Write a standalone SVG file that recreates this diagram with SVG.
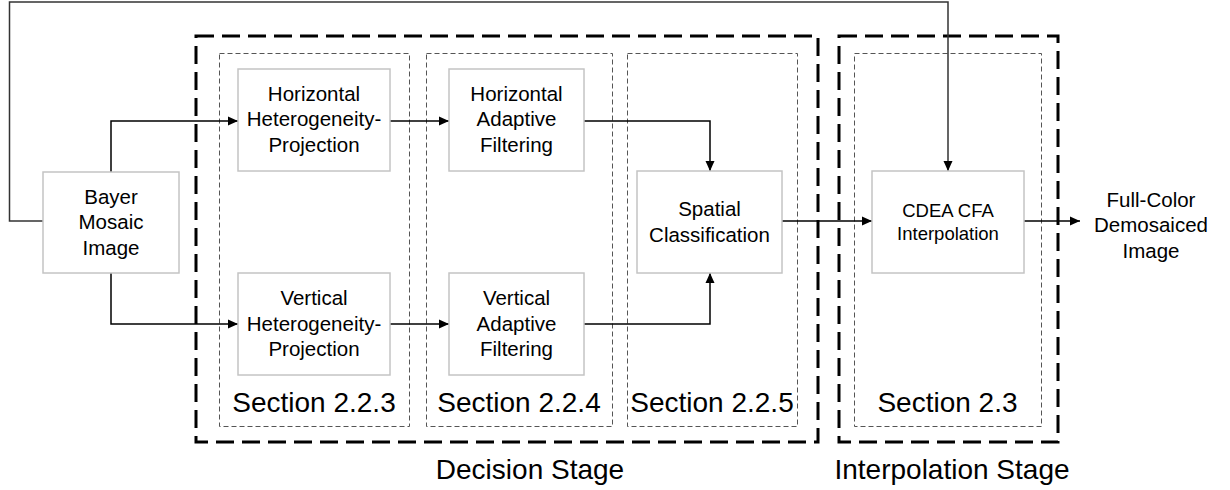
<svg xmlns="http://www.w3.org/2000/svg" width="1230" height="490" viewBox="0 0 1230 490">
  <defs>
    <marker id="arrow" viewBox="0 0 10 10" refX="10" refY="5" markerWidth="10" markerHeight="10" markerUnits="userSpaceOnUse" orient="auto">
      <path d="M0,0.5 L10,5 L0,9.5 Z" fill="#000"/>
    </marker>
    <style>
      .stage { fill: none; stroke: #000; stroke-width: 3; stroke-dasharray: 18 8; }
      .section { fill: none; stroke: #555; stroke-width: 1; stroke-dasharray: 5 3; }
      .box { fill: #fff; stroke: #c4c4c4; stroke-width: 1.5; }
      .lbl { font-family: "Liberation Sans", Arial, sans-serif; font-size: 20.5px; fill: #000; text-anchor: middle; }
      .small { font-size: 18.5px; }
      .big { font-family: "Liberation Sans", Arial, sans-serif; font-size: 28px; fill: #000; text-anchor: middle; }
      .wire { fill: none; stroke: #000; stroke-width: 1.5; }
      .feedback { fill: none; stroke: #333; stroke-width: 1.5; }
    </style>
  </defs>

  <!-- stage frames -->
  <g id="decision-stage">
    <rect class="stage" x="196" y="36" width="622" height="406"/>
    <text class="big" x="530" y="479">Decision Stage</text>
  </g>
  <g id="interpolation-stage">
    <rect class="stage" x="839" y="36" width="219" height="406"/>
    <text class="big" x="952" y="479">Interpolation Stage</text>
  </g>

  <!-- section frames -->
  <g id="section-223">
    <rect class="section" x="219.5" y="53.5" width="190" height="373"/>
    <text class="big" x="314" y="412">Section 2.2.3</text>
  </g>
  <g id="section-224">
    <rect class="section" x="426.5" y="53.5" width="186" height="373"/>
    <text class="big" x="519" y="412">Section 2.2.4</text>
  </g>
  <g id="section-225">
    <rect class="section" x="627.5" y="53.5" width="170" height="373"/>
    <text class="big" x="712" y="412">Section 2.2.5</text>
  </g>
  <g id="section-23">
    <rect class="section" x="854.5" y="53.5" width="187" height="373"/>
    <text class="big" x="947.5" y="412">Section 2.3</text>
  </g>

  <!-- connectors -->
  <g id="connectors">
    <path class="feedback" d="M43,221 H9.5 V2 H948 V171" marker-end="url(#arrow)"/>
    <path class="wire" d="M111,172 V121 H238" marker-end="url(#arrow)"/>
    <path class="wire" d="M111,273 V324 H238" marker-end="url(#arrow)"/>
    <path class="wire" d="M390,121 H449" marker-end="url(#arrow)"/>
    <path class="wire" d="M390,324 H449" marker-end="url(#arrow)"/>
    <path class="wire" d="M584,121 H710 V171" marker-end="url(#arrow)"/>
    <path class="wire" d="M584,324 H710 V273" marker-end="url(#arrow)"/>
    <path class="wire" d="M782,221 H872" marker-end="url(#arrow)"/>
    <path class="wire" d="M1024,221 H1080" marker-end="url(#arrow)"/>
  </g>

  <!-- nodes -->
  <g id="bayer">
    <rect class="box" x="43" y="172" width="136" height="101"/>
    <text class="lbl" x="111" y="203.5">Bayer</text>
    <text class="lbl" x="111" y="229">Mosaic</text>
    <text class="lbl" x="111" y="254.5">Image</text>
  </g>
  <g id="h-projection">
    <rect class="box" x="238" y="69" width="152" height="102"/>
    <text class="lbl" x="314" y="100.5">Horizontal</text>
    <text class="lbl" x="314" y="126">Heterogeneity-</text>
    <text class="lbl" x="314" y="151.5">Projection</text>
  </g>
  <g id="v-projection">
    <rect class="box" x="238" y="273" width="152" height="102"/>
    <text class="lbl" x="314" y="305">Vertical</text>
    <text class="lbl" x="314" y="330.5">Heterogeneity-</text>
    <text class="lbl" x="314" y="356">Projection</text>
  </g>
  <g id="h-filtering">
    <rect class="box" x="449" y="69" width="135" height="102"/>
    <text class="lbl" x="516.5" y="100.5">Horizontal</text>
    <text class="lbl" x="516.5" y="126">Adaptive</text>
    <text class="lbl" x="516.5" y="151.5">Filtering</text>
  </g>
  <g id="v-filtering">
    <rect class="box" x="449" y="273" width="135" height="102"/>
    <text class="lbl" x="516.5" y="305">Vertical</text>
    <text class="lbl" x="516.5" y="330.5">Adaptive</text>
    <text class="lbl" x="516.5" y="356">Filtering</text>
  </g>
  <g id="spatial">
    <rect class="box" x="637" y="171" width="145" height="102"/>
    <text class="lbl" x="709.5" y="216">Spatial</text>
    <text class="lbl" x="709.5" y="242">Classification</text>
  </g>
  <g id="cdea">
    <rect class="box" x="872" y="171" width="152" height="102"/>
    <text class="lbl small" x="948" y="216.5">CDEA CFA</text>
    <text class="lbl small" x="948" y="239.5">Interpolation</text>
  </g>
  <g id="output">
    <text class="lbl" x="1151" y="206.5">Full-Color</text>
    <text class="lbl" x="1151" y="232">Demosaiced</text>
    <text class="lbl" x="1151" y="257.5">Image</text>
  </g>
</svg>
